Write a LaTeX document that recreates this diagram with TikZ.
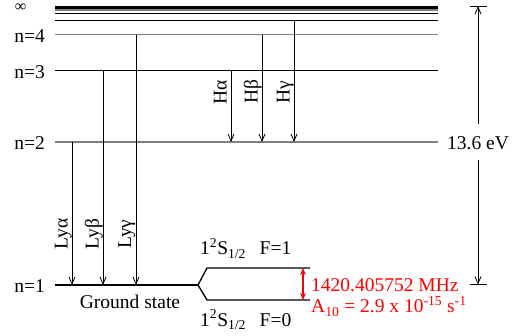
\documentclass[tikz,border=0pt]{standalone}
\usepackage{fontspec}
\setmainfont{Liberation Serif}
\usetikzlibrary{arrows.meta}
\definecolor{lvlgray}{gray}{0.5}
\definecolor{hfred}{RGB}{255,0,0}
\begin{document}
\begin{tikzpicture}[x=1pt,y=-1pt,
  lvl/.style={line width=1.3pt},
  lvlg/.style={line width=1.3pt,draw=lvlgray},
  tr/.style={line width=0.8pt,-{Straight Barb[length=7pt,width=6pt]}},
  lab/.style={font=\fontsize{19.5}{22}\selectfont, inner sep=0pt},
  rlab/.style={lab,text=hfred},
  rotlab/.style={lab,rotate=90,anchor=base},
]
\useasboundingbox (0,0) rectangle (514,336);
% level end points
\coordinate (L1a) at (55,285);   \coordinate (L1b) at (198,285);
\coordinate (L2a) at (55,142);   \coordinate (L2b) at (438,142);
\coordinate (L3a) at (55,70.5);  \coordinate (L3b) at (438,70.5);
\coordinate (L4a) at (55,34.7);  \coordinate (L4b) at (438,34.7);
\coordinate (L5a) at (55,20.7);  \coordinate (L5b) at (438,20.7);
\coordinate (L6a) at (55,13.3);  \coordinate (L6b) at (438,13.3);
\coordinate (L7a) at (55,10);    \coordinate (L7b) at (438,10);
\coordinate (Lia) at (55,7.3);   \coordinate (Lib) at (438,7.3);
% levels
\draw[lvl] (L1a) -- (L1b);
\draw[lvlg] (L2a) -- (L2b);
\draw[lvl] (L3a) -- (L3b);
\draw[lvlg] (L4a) -- (L4b);
\draw[lvl,line width=1.1pt] (L5a) -- (L5b);
\draw[lvl,line width=1.1pt] (L6a) -- (L6b);
\draw[lvlg,line width=1.5pt] (L7a) -- (L7b);
\draw[lvl,line width=2.8pt] (Lia) -- (Lib);
% hyperfine split
\coordinate (F1a) at (207,268); \coordinate (F1b) at (310,268);
\coordinate (F0a) at (207,300); \coordinate (F0b) at (310,300);
\draw[lvl] (L1b) -- (F1a) -- (F1b);
\draw[lvl] (L1b) -- (F0a) -- (F0b);
% level labels
\node[lab,font=\fontsize{16}{18}\selectfont,anchor=base] (linf) at (20.5,11.5) {∞};
\node[lab,anchor=east] (ln4) at (45,36) {n=4};
\node[lab,anchor=east] (ln3) at (45,72) {n=3};
\node[lab,anchor=east] (ln2) at (45,143.5) {n=2};
\node[lab,anchor=east] (ln1) at (45,286.5) {n=1};
\node[lab,anchor=base] (gs) at (130,309) {Ground state};
% Lyman series
\coordinate (Ly1s) at (72,142);  \coordinate (Ly1e) at (72,285);
\coordinate (Ly2s) at (103,70.5); \coordinate (Ly2e) at (103,285);
\coordinate (Ly3s) at (136,34.7); \coordinate (Ly3e) at (136,285);
\draw[tr] (Ly1s) -- (Ly1e);
\draw[tr] (Ly2s) -- (Ly2e);
\draw[tr] (Ly3s) -- (Ly3e);
\node[rotlab] (lya) at (67.5,234) {Lyα};
\node[rotlab] (lyb) at (98.5,234) {Lyβ};
\node[rotlab] (lyg) at (131,234) {Lyγ};
% Balmer series
\coordinate (H1s) at (231,70.5); \coordinate (H1e) at (231,142);
\coordinate (H2s) at (262,34.7); \coordinate (H2e) at (262,142);
\coordinate (H3s) at (294,20.7); \coordinate (H3e) at (294,142);
\draw[tr] (H1s) -- (H1e);
\draw[tr] (H2s) -- (H2e);
\draw[tr] (H3s) -- (H3e);
\node[rotlab] (ha) at (226.5,92) {Hα};
\node[rotlab] (hb) at (257.5,92) {Hβ};
\node[rotlab] (hg) at (289.5,92) {Hγ};
% ionisation energy
\coordinate (Tt) at (478,6);   \coordinate (Tb) at (478,284.5);
\coordinate (Tta) at (470,6);  \coordinate (Ttb) at (487,6);
\coordinate (Tba) at (470,284.5); \coordinate (Tbb) at (487,284.5);
\draw[line width=0.8pt] (Tta) -- (Ttb);
\draw[line width=0.8pt] (Tba) -- (Tbb);
\node[lab,inner ysep=0pt] (ev) at (478,143.5) {13.6 eV};
\coordinate (evn) at (478,124); \coordinate (evs) at (478,160);
\draw[tr] (evn) -- (Tt);
\draw[tr] (evs) -- (Tb);
% hyperfine labels
\node[lab,anchor=base west] (f1) at (200,255) {1\textsuperscript{2}S\textsubscript{1/2}\hspace{0.7em}F=1};
\node[lab,anchor=base west] (f0) at (200,326.5) {1\textsuperscript{2}S\textsubscript{1/2}\hspace{0.7em}F=0};
\coordinate (hfa) at (303,268); \coordinate (hfb) at (303,300);
\draw[hfred,line width=1.6pt,{Stealth[length=7pt,width=6pt]}-{Stealth[length=7pt,width=6pt]}] (hfa) -- (hfb);
\node[rlab,anchor=base west] (mhz) at (311,292) {1420.405752 MHz};
\node[rlab,anchor=base west] (a10) at (311,313) {A\textsubscript{10} = 2.9 x 10\textsuperscript{-15} s\textsuperscript{-1}};
\end{tikzpicture}
\end{document}
